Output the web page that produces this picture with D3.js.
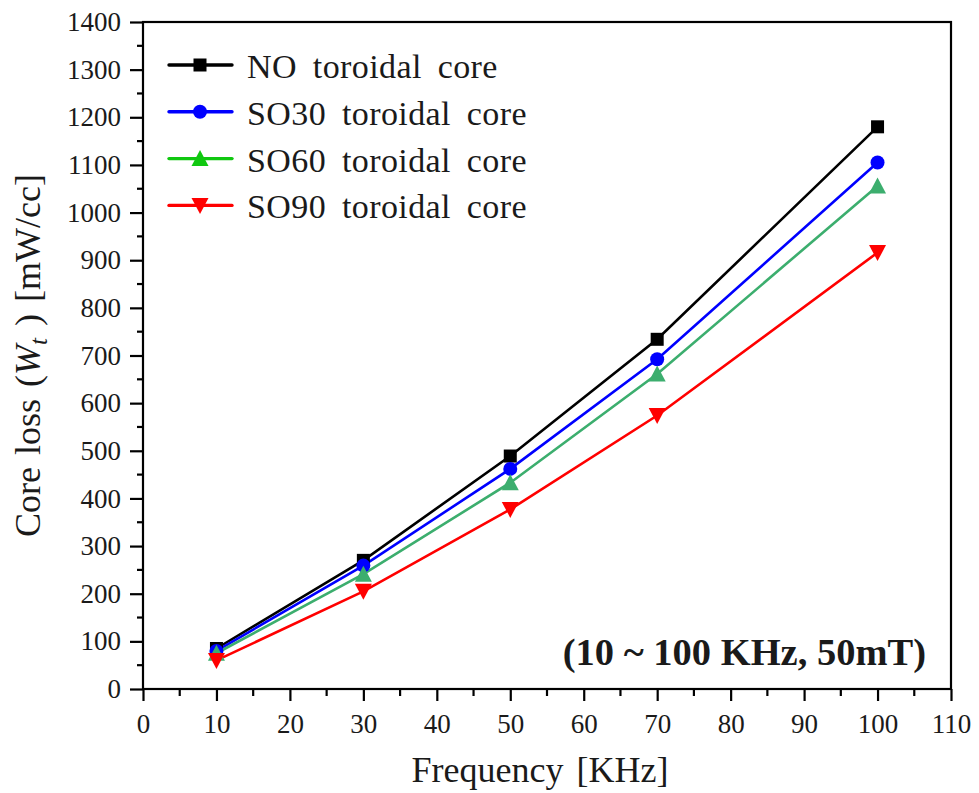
<!DOCTYPE html>
<html>
<head>
<meta charset="utf-8">
<script src="https://cdn.jsdelivr.net/npm/d3@7"></script>
<style>
  body { margin: 0; background: #fff; }
  svg { display: block; }
  svg text { font-family: "Liberation Serif", "Times New Roman", serif !important; }
</style>
</head>
<body>
<svg id="chart" width="979" height="793"></svg>
<script>
// Frequency points (KHz)
const frequencies = [10, 30, 50, 70, 100];

// Core loss per core type (mW/cc)
const noCore   = [85, 270, 489, 734, 1180];
const so30Core = [80, 259, 462, 692, 1105];
const so60Core = [75, 241, 433, 661, 1056];
const so90Core = [60, 205, 377, 574, 916];

const seriesNames = ["NO toroidal core", "SO30 toroidal core", "SO60 toroidal core", "SO90 toroidal core"];
const seriesValues = [noCore, so30Core, so60Core, so90Core];

const xTicks = [0, 10, 20, 30, 40, 50, 60, 70, 80, 90, 100, 110];
const yTicks = [0, 100, 200, 300, 400, 500, 600, 700, 800, 900, 1000, 1100, 1200, 1300, 1400];

const lineColors   = ["#000000", "#0000ff", "#3cae6e", "#ff0000"];
const legendColors = ["#000000", "#0000ff", "#10c810", "#ff0000"];
const symbols = ["square", "circle", "triUp", "triDown"];

const SERIF = "Liberation Serif";
const INK = "#1a1a1a";

const svg = d3.select("#chart");
const margin = { left: 143, right: 28, top: 22, bottom: 104 };
const W = 979, H = 793;
const x = d3.scaleLinear().domain([0, 110]).range([margin.left, W - margin.right]);
const y = d3.scaleLinear().domain([0, 1400]).range([H - margin.bottom, margin.top]);

// Frame
svg.append("rect")
  .attr("x", x(0)).attr("y", y(1400))
  .attr("width", x(110) - x(0)).attr("height", y(0) - y(1400))
  .attr("fill", "none").attr("stroke", "#000").attr("stroke-width", 2.2);

// Bottom axis: major ticks with labels, minor ticks in between
const xAxis = d3.axisBottom(x).tickValues(xTicks).tickSize(12).tickPadding(13).tickFormat(d3.format("d"));
const gx = svg.append("g").attr("transform", `translate(0,${y(0)})`).call(xAxis)
  .attr("font-family", SERIF).attr("font-size", 27);
gx.select(".domain").remove();
gx.selectAll(".tick line").attr("stroke", "#000").attr("stroke-width", 2.2);
gx.selectAll(".tick text").attr("fill", INK);
const xMinor = d3.range(5, 110, 10);
svg.append("g").selectAll("line").data(xMinor).join("line")
  .attr("x1", d => x(d)).attr("x2", d => x(d))
  .attr("y1", y(0)).attr("y2", y(0) + 7)
  .attr("stroke", "#000").attr("stroke-width", 2.2);

// Left axis
const yAxis = d3.axisLeft(y).tickValues(yTicks).tickSize(13).tickPadding(9).tickFormat(d3.format("d"));
const gy = svg.append("g").attr("transform", `translate(${x(0)},0)`).call(yAxis)
  .attr("font-family", SERIF).attr("font-size", 27);
gy.select(".domain").remove();
gy.selectAll(".tick line").attr("stroke", "#000").attr("stroke-width", 2.2);
gy.selectAll(".tick text").attr("fill", INK);
const yMinor = d3.range(50, 1400, 100);
svg.append("g").selectAll("line").data(yMinor).join("line")
  .attr("x1", x(0)).attr("x2", x(0) - 6)
  .attr("y1", d => y(d)).attr("y2", d => y(d))
  .attr("stroke", "#000").attr("stroke-width", 2.2);

// Marker drawing
function drawMarker(g, kind, cx, cy, color) {
  if (kind === "square") {
    g.append("rect").attr("x", cx - 6.5).attr("y", cy - 6.5).attr("width", 13).attr("height", 13).attr("fill", color);
  } else if (kind === "circle") {
    g.append("circle").attr("cx", cx).attr("cy", cy).attr("r", 7).attr("fill", color);
  } else if (kind === "triUp") {
    g.append("path").attr("d", `M${cx},${cy - 8.5}L${cx + 8.5},${cy + 7.5}L${cx - 8.5},${cy + 7.5}Z`).attr("fill", color);
  } else {
    g.append("path").attr("d", `M${cx},${cy + 8.5}L${cx + 8.5},${cy - 7.5}L${cx - 8.5},${cy - 7.5}Z`).attr("fill", color);
  }
}

// Series lines then markers
const line = d3.line().x((d, i) => x(frequencies[i])).y(d => y(d));
const plot = svg.append("g");
seriesValues.forEach((vals, s) => {
  plot.append("path").datum(vals).attr("d", line)
    .attr("fill", "none").attr("stroke", lineColors[s]).attr("stroke-width", 2.6);
});
seriesValues.forEach((vals, s) => {
  const g = plot.append("g");
  vals.forEach((v, i) => drawMarker(g, symbols[s], x(frequencies[i]), y(v), lineColors[s]));
});

// Legend
const legend = svg.append("g");
seriesNames.forEach((name, s) => {
  const ly = 65 + s * 46.8;
  legend.append("line").attr("x1", 169).attr("x2", 232).attr("y1", ly).attr("y2", ly)
    .attr("stroke", legendColors[s]).attr("stroke-width", 3.4).attr("stroke-linecap", "round");
  drawMarker(legend, symbols[s], 200, ly, legendColors[s]);
  legend.append("text").attr("x", 247).attr("y", ly + 13)
    .attr("font-size", 34).attr("fill", INK)
    .attr("word-spacing", 7).attr("letter-spacing", 0.4)
    .text(name);
});

// Annotation
svg.append("text").attr("x", 926).attr("y", 665).attr("text-anchor", "end")
  .attr("font-size", 38.5).attr("font-weight", "bold").attr("fill", INK)
  .text("(10 ~ 100 KHz, 50mT)");

// Axis titles
svg.append("text").attr("x", 540).attr("y", 782).attr("text-anchor", "middle")
  .attr("font-size", 36).attr("fill", INK)
  .attr("word-spacing", 4)
  .text("Frequency [KHz]");

const yt = svg.append("text").attr("transform", `translate(40,${(y(0) + y(1400)) / 2}) rotate(-90)`)
  .attr("text-anchor", "middle").attr("font-size", 36).attr("fill", INK)
  .attr("word-spacing", 3);
yt.append("tspan").text("Core loss (");
yt.append("tspan").attr("font-style", "italic").text("W");
yt.append("tspan").attr("font-style", "italic").attr("font-size", 25).attr("dy", 7).text("t");
yt.append("tspan").attr("dy", -7).text(" ) [mW/cc]");
</script>
</body>
</html>
